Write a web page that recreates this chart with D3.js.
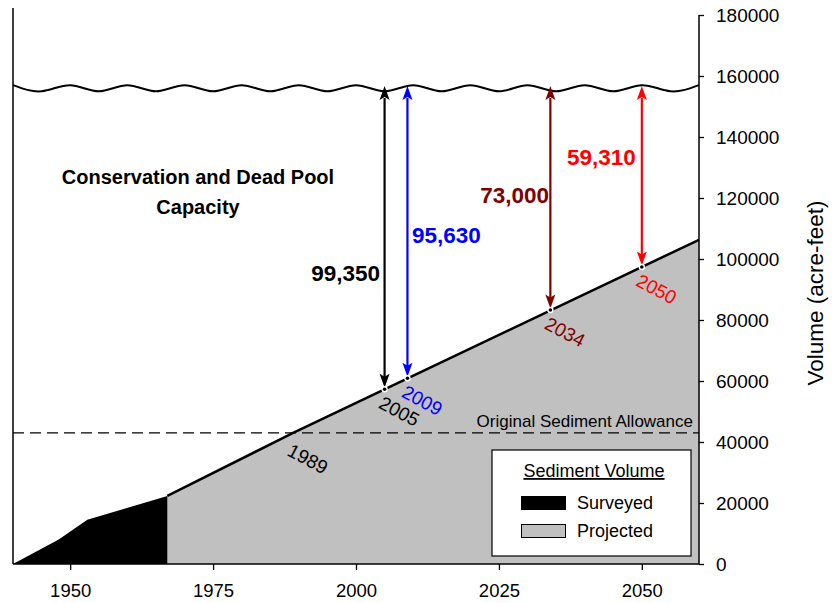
<!DOCTYPE html>
<html>
<head>
<meta charset="utf-8">
<script src="https://cdn.jsdelivr.net/npm/d3@7"></script>
<style>
body { margin: 0; background: #fff; }
svg { display: block; font-family: Arial, "Liberation Sans", sans-serif; }
</style>
</head>
<body>
<svg id="chart" width="835" height="603"></svg>
<script>
// ---- data ----
const xTicks = [1950, 1975, 2000, 2025, 2050];
const yTicks = [0, 20000, 40000, 60000, 80000, 100000, 120000, 140000, 160000, 180000];

const surveyedYears = [1940, 1948, 1953, 1967];
const surveyedVolume = [0, 8000, 14500, 22300];

const projectedYears = [1967, 1989, 2060];
const projectedVolume = [22300, 43000, 106300];

const waveYears = [1940, 1945, 1950, 1955, 1960, 1965, 1970, 1975, 1980, 1985, 1990, 1995, 2000, 2005, 2010, 2015, 2020, 2025, 2030, 2035, 2040, 2045, 2050, 2055, 2060];
const waveVolume = [157000, 155000, 157000, 155000, 157000, 155000, 157000, 155000, 157000, 155000, 157000, 155000, 157000, 155000, 157000, 155000, 157000, 155000, 157000, 155000, 157000, 155000, 157000, 155000, 157000];

const capacityTop = 156750;
const markerYears = [2005, 2009, 2034, 2050];
const markerVolume = [57300, 60900, 83300, 97400];
const markerLabels = ["99,350", "95,630", "73,000", "59,310"];
const markerColors = ["#000000", "#0000ff", "#800000", "#ff0000"];

const crossingYear = 1989;
const crossingVolume = 43000;
const originalAllowance = 43000;

// ---- layout ----
const svg = d3.select("#chart");
const mLeft = 13, mRight = 699, mTop = 15, mBottom = 564;
const x = d3.scaleLinear().domain([1940, 2060]).range([mLeft, mRight]);
const y = d3.scaleLinear().domain([0, 180000]).range([mBottom, mTop]);

const surveyed = surveyedYears.map((d, i) => [d, surveyedVolume[i]]);
const projected = projectedYears.map((d, i) => [d, projectedVolume[i]]);
const wave = waveYears.map((d, i) => [d, waveVolume[i]]);

const area = d3.area().x(d => x(d[0])).y0(y(0)).y1(d => y(d[1]));
const line = d3.line().x(d => x(d[0])).y(d => y(d[1]));

svg.append("path").attr("d", area(projected)).attr("fill", "#c0c0c0");
svg.append("path").attr("d", area(surveyed)).attr("fill", "#000");
svg.append("path").attr("d", line(projected)).attr("fill", "none").attr("stroke", "#000").attr("stroke-width", 2.5);

// dashed original sediment allowance
svg.append("line")
  .attr("x1", x(1940)).attr("x2", x(2060))
  .attr("y1", y(originalAllowance)).attr("y2", y(originalAllowance))
  .attr("stroke", "#000").attr("stroke-width", 1.3).attr("stroke-dasharray", "11,6");
svg.append("text").attr("x", 693).attr("y", y(originalAllowance) - 6)
  .attr("text-anchor", "end").attr("font-size", 17).text("Original Sediment Allowance");

// wavy capacity line
svg.append("path")
  .attr("d", d3.line().x(d => x(d[0])).y(d => y(d[1])).curve(d3.curveNatural)(wave))
  .attr("fill", "none").attr("stroke", "#000").attr("stroke-width", 2);

// axes
const xAxis = d3.axisBottom(x).tickValues(xTicks).tickSize(6).tickPadding(14).tickFormat(d3.format("d"));
const gx = svg.append("g").attr("transform", `translate(0,${mBottom})`).call(xAxis);
gx.select(".domain").attr("d", `M${mLeft},0H${mRight}`).attr("stroke-width", 1.5);
gx.selectAll(".tick line").attr("stroke-width", 1.3);
gx.selectAll("text").attr("font-size", 18.5).attr("font-family", "Arial, 'Liberation Sans', sans-serif").attr("fill", "#000");

const yAxis = d3.axisRight(y).tickValues(yTicks).tickSize(5).tickPadding(12).tickFormat(d3.format("d"));
const gy = svg.append("g").attr("transform", `translate(${mRight},0)`).call(yAxis);
gy.select(".domain").attr("d", `M0,${mTop}V${mBottom}`).attr("stroke-width", 1.5);
gy.selectAll(".tick line").attr("stroke-width", 1.3);
gy.selectAll("text").attr("font-size", 19).attr("font-family", "Arial, 'Liberation Sans', sans-serif").attr("fill", "#000");

svg.append("line").attr("x1", mLeft).attr("x2", mLeft).attr("y1", 8).attr("y2", mBottom)
  .attr("stroke", "#000").attr("stroke-width", 1.5);

svg.append("text").attr("transform", "translate(823,293) rotate(-90)")
  .attr("text-anchor", "middle").attr("font-size", 22.5).text("Volume (acre-feet)");

// arrows
const head = 14, hw = 5;
markerYears.forEach((yr, i) => {
  const cx = x(yr), yt = y(capacityTop), yb = y(markerVolume[i]);
  const c = markerColors[i];
  svg.append("line").attr("x1", cx).attr("x2", cx).attr("y1", yt + head - 2).attr("y2", yb - head + 2)
    .attr("stroke", c).attr("stroke-width", 2.2);
  svg.append("path").attr("d", `M${cx},${yt}L${cx - hw},${yt + head}L${cx},${yt + head - 3}L${cx + hw},${yt + head}Z`).attr("fill", c);
  svg.append("path").attr("d", `M${cx},${yb - 1.5}L${cx - hw},${yb - head - 1.5}L${cx},${yb - head + 1.5}L${cx + hw},${yb - head - 1.5}Z`).attr("fill", c);
});

// value labels
const labelPos = [
  { x: 380, y: 281, anchor: "end" },
  { x: 412, y: 243, anchor: "start" },
  { x: 549, y: 203, anchor: "end" },
  { x: 567, y: 165, anchor: "start" }
];
markerLabels.forEach((t, i) => {
  svg.append("text").attr("x", labelPos[i].x).attr("y", labelPos[i].y)
    .attr("text-anchor", labelPos[i].anchor).attr("font-size", 22.5).attr("font-weight", "bold")
    .attr("fill", markerColors[i]).text(t);
});

// marker dots
markerYears.forEach((yr, i) => {
  const cx = x(yr), cy = y(markerVolume[i]);
  svg.append("circle").attr("cx", cx).attr("cy", cy).attr("r", 3.2).attr("fill", "#fff");
  svg.append("circle").attr("cx", cx).attr("cy", cy).attr("r", 1.8).attr("fill", "#000");
});

// rotated year labels
const yearLabels = markerYears.map((yr, i) => ({ yr, v: markerVolume[i], c: markerColors[i], dy: 18 }));
yearLabels.push({ yr: crossingYear, v: crossingVolume, c: "#000", dy: 22 });
yearLabels.forEach(d => {
  const px = x(d.yr) - 7, py = y(d.v) + d.dy;
  svg.append("text").attr("transform", `translate(${px},${py}) rotate(28)`)
    .attr("font-size", 19).attr("fill", d.c).text(d.yr);
});

// capacity title
const ct = svg.append("text").attr("text-anchor", "middle").attr("font-size", 20).attr("font-weight", "bold");
ct.append("tspan").attr("x", 198).attr("y", 184).text("Conservation and Dead Pool");
ct.append("tspan").attr("x", 198).attr("y", 214).text("Capacity");

// legend
svg.append("rect").attr("x", 492).attr("y", 450).attr("width", 199).attr("height", 106)
  .attr("fill", "#fff").attr("stroke", "#000").attr("stroke-width", 1.2);
svg.append("text").attr("x", 594).attr("y", 477).attr("text-anchor", "middle").attr("font-size", 18)
  .attr("text-decoration", "underline").text("Sediment Volume");
svg.append("rect").attr("x", 521).attr("y", 496).attr("width", 45).attr("height", 14).attr("fill", "#000");
svg.append("rect").attr("x", 521.5).attr("y", 524.5).attr("width", 44).attr("height", 13)
  .attr("fill", "#c0c0c0").attr("stroke", "#000").attr("stroke-width", 1);
svg.append("text").attr("x", 577).attr("y", 509).attr("font-size", 18).text("Surveyed");
svg.append("text").attr("x", 577).attr("y", 537).attr("font-size", 18).text("Projected");
</script>
</body>
</html>
